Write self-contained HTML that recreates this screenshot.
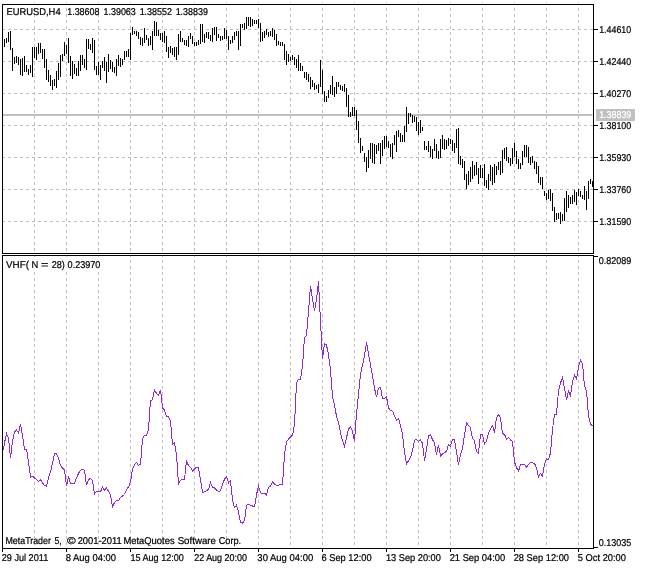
<!DOCTYPE html>
<html><head><meta charset="utf-8"><title>EURUSD,H4</title>
<style>html,body{margin:0;padding:0;background:#fff}svg{display:block;will-change:transform}text{text-rendering:geometricPrecision;stroke:#000;stroke-width:0.22px;font-family:"Liberation Sans",sans-serif;font-size:9.9px;fill:#000}</style></head><body>
<svg width="646" height="569" viewBox="0 0 646 569">
<rect width="646" height="569" fill="#fff"/>
<g shape-rendering="crispEdges" stroke="#c0c0c0" stroke-width="1" stroke-dasharray="3 3" fill="none">
<line x1="34.5" y1="8" x2="34.5" y2="253"/>
<line x1="34.5" y1="256" x2="34.5" y2="548" stroke-dashoffset="2"/>
<line x1="34.5" y1="2" x2="34.5" y2="3" stroke-dasharray="none"/>
<line x1="66.5" y1="8" x2="66.5" y2="253"/>
<line x1="66.5" y1="256" x2="66.5" y2="548" stroke-dashoffset="2"/>
<line x1="66.5" y1="2" x2="66.5" y2="3" stroke-dasharray="none"/>
<line x1="98.5" y1="8" x2="98.5" y2="253"/>
<line x1="98.5" y1="256" x2="98.5" y2="548" stroke-dashoffset="2"/>
<line x1="98.5" y1="2" x2="98.5" y2="3" stroke-dasharray="none"/>
<line x1="130.5" y1="8" x2="130.5" y2="253"/>
<line x1="130.5" y1="256" x2="130.5" y2="548" stroke-dashoffset="2"/>
<line x1="130.5" y1="2" x2="130.5" y2="3" stroke-dasharray="none"/>
<line x1="162.5" y1="8" x2="162.5" y2="253"/>
<line x1="162.5" y1="256" x2="162.5" y2="548" stroke-dashoffset="2"/>
<line x1="162.5" y1="2" x2="162.5" y2="3" stroke-dasharray="none"/>
<line x1="194.5" y1="8" x2="194.5" y2="253"/>
<line x1="194.5" y1="256" x2="194.5" y2="548" stroke-dashoffset="2"/>
<line x1="194.5" y1="2" x2="194.5" y2="3" stroke-dasharray="none"/>
<line x1="226.5" y1="8" x2="226.5" y2="253"/>
<line x1="226.5" y1="256" x2="226.5" y2="548" stroke-dashoffset="2"/>
<line x1="226.5" y1="2" x2="226.5" y2="3" stroke-dasharray="none"/>
<line x1="258.5" y1="8" x2="258.5" y2="253"/>
<line x1="258.5" y1="256" x2="258.5" y2="548" stroke-dashoffset="2"/>
<line x1="258.5" y1="2" x2="258.5" y2="3" stroke-dasharray="none"/>
<line x1="290.5" y1="8" x2="290.5" y2="253"/>
<line x1="290.5" y1="256" x2="290.5" y2="548" stroke-dashoffset="2"/>
<line x1="290.5" y1="2" x2="290.5" y2="3" stroke-dasharray="none"/>
<line x1="322.5" y1="8" x2="322.5" y2="253"/>
<line x1="322.5" y1="256" x2="322.5" y2="548" stroke-dashoffset="2"/>
<line x1="322.5" y1="2" x2="322.5" y2="3" stroke-dasharray="none"/>
<line x1="354.5" y1="8" x2="354.5" y2="253"/>
<line x1="354.5" y1="256" x2="354.5" y2="548" stroke-dashoffset="2"/>
<line x1="354.5" y1="2" x2="354.5" y2="3" stroke-dasharray="none"/>
<line x1="386.5" y1="8" x2="386.5" y2="253"/>
<line x1="386.5" y1="256" x2="386.5" y2="548" stroke-dashoffset="2"/>
<line x1="386.5" y1="2" x2="386.5" y2="3" stroke-dasharray="none"/>
<line x1="418.5" y1="8" x2="418.5" y2="253"/>
<line x1="418.5" y1="256" x2="418.5" y2="548" stroke-dashoffset="2"/>
<line x1="418.5" y1="2" x2="418.5" y2="3" stroke-dasharray="none"/>
<line x1="450.5" y1="8" x2="450.5" y2="253"/>
<line x1="450.5" y1="256" x2="450.5" y2="548" stroke-dashoffset="2"/>
<line x1="450.5" y1="2" x2="450.5" y2="3" stroke-dasharray="none"/>
<line x1="482.5" y1="8" x2="482.5" y2="253"/>
<line x1="482.5" y1="256" x2="482.5" y2="548" stroke-dashoffset="2"/>
<line x1="482.5" y1="2" x2="482.5" y2="3" stroke-dasharray="none"/>
<line x1="514.5" y1="8" x2="514.5" y2="253"/>
<line x1="514.5" y1="256" x2="514.5" y2="548" stroke-dashoffset="2"/>
<line x1="514.5" y1="2" x2="514.5" y2="3" stroke-dasharray="none"/>
<line x1="546.5" y1="8" x2="546.5" y2="253"/>
<line x1="546.5" y1="256" x2="546.5" y2="548" stroke-dashoffset="2"/>
<line x1="546.5" y1="2" x2="546.5" y2="3" stroke-dasharray="none"/>
<line x1="578.5" y1="8" x2="578.5" y2="253"/>
<line x1="578.5" y1="256" x2="578.5" y2="548" stroke-dashoffset="2"/>
<line x1="578.5" y1="2" x2="578.5" y2="3" stroke-dasharray="none"/>
<line x1="3" y1="29.5" x2="593" y2="29.5" stroke-dashoffset="1"/>
<line x1="3" y1="61.5" x2="593" y2="61.5" stroke-dashoffset="1"/>
<line x1="3" y1="93.5" x2="593" y2="93.5" stroke-dashoffset="1"/>
<line x1="3" y1="125.5" x2="593" y2="125.5" stroke-dashoffset="1"/>
<line x1="3" y1="157.5" x2="593" y2="157.5" stroke-dashoffset="1"/>
<line x1="3" y1="189.5" x2="593" y2="189.5" stroke-dashoffset="1"/>
<line x1="3" y1="221.5" x2="593" y2="221.5" stroke-dashoffset="1"/>
</g>
<g shape-rendering="crispEdges" fill="#000">
<rect x="2" y="4" width="592" height="1"/>
<rect x="2" y="4" width="1" height="250"/>
<rect x="593" y="4" width="1" height="250"/>
<rect x="2" y="253" width="592" height="1"/>
<rect x="2" y="255" width="592" height="1"/>
<rect x="2" y="255" width="1" height="294"/>
<rect x="593" y="255" width="1" height="294"/>
<rect x="2" y="548" width="592" height="1"/>
<rect x="594" y="29" width="4" height="1"/>
<rect x="594" y="61" width="4" height="1"/>
<rect x="594" y="93" width="4" height="1"/>
<rect x="594" y="125" width="4" height="1"/>
<rect x="594" y="157" width="4" height="1"/>
<rect x="594" y="189" width="4" height="1"/>
<rect x="594" y="221" width="4" height="1"/>
<rect x="594" y="256" width="4" height="1"/>
<rect x="594" y="547" width="4" height="1"/>
<rect x="2" y="549" width="1" height="3"/>
<rect x="66" y="549" width="1" height="3"/>
<rect x="130" y="549" width="1" height="3"/>
<rect x="194" y="549" width="1" height="3"/>
<rect x="258" y="549" width="1" height="3"/>
<rect x="322" y="549" width="1" height="3"/>
<rect x="386" y="549" width="1" height="3"/>
<rect x="450" y="549" width="1" height="3"/>
<rect x="514" y="549" width="1" height="3"/>
<rect x="578" y="549" width="1" height="3"/>
</g>
<g shape-rendering="crispEdges"><rect x="3" y="114" width="589" height="2" fill="#c0c0c0"/><rect x="592" y="114" width="1" height="2" fill="#e6e6e6"/><rect x="596" y="109" width="39" height="12" fill="#c0c0c0"/></g>
<path shape-rendering="crispEdges" fill="#000" d="M4 39h1v8h-1zM6 38h1v5h-1zM8 32h1v10h-1zM10 31h1v19h-1zM12 48h1v23h-1zM14 57h1v7h-1zM16 56h1v7h-1zM18 57h1v8h-1zM20 59h1v16h-1zM22 58h1v18h-1zM24 56h1v16h-1zM26 65h1v7h-1zM28 69h1v6h-1zM30 65h1v8h-1zM32 47h1v30h-1zM34 47h1v11h-1zM36 47h1v13h-1zM38 43h1v11h-1zM40 43h1v10h-1zM42 49h1v10h-1zM44 49h1v19h-1zM46 59h1v21h-1zM48 70h1v12h-1zM50 75h1v11h-1zM52 80h1v10h-1zM54 79h1v7h-1zM56 71h1v17h-1zM58 63h1v17h-1zM60 55h1v22h-1zM62 54h1v7h-1zM64 42h1v14h-1zM66 45h1v9h-1zM68 38h1v25h-1zM70 56h1v20h-1zM72 61h1v18h-1zM74 64h1v10h-1zM76 68h1v8h-1zM78 61h1v15h-1zM80 55h1v16h-1zM82 55h1v10h-1zM84 59h1v9h-1zM86 39h1v31h-1zM88 39h1v10h-1zM90 44h1v6h-1zM92 38h1v15h-1zM94 40h1v30h-1zM96 66h1v9h-1zM98 62h1v13h-1zM100 65h1v15h-1zM102 61h1v7h-1zM104 57h1v14h-1zM106 62h1v21h-1zM108 54h1v18h-1zM110 60h1v9h-1zM112 62h1v10h-1zM114 67h1v6h-1zM116 59h1v17h-1zM118 55h1v11h-1zM120 58h1v9h-1zM122 59h1v6h-1zM124 51h1v9h-1zM126 51h1v6h-1zM128 49h1v8h-1zM130 33h1v27h-1zM132 27h1v8h-1zM134 31h1v3h-1zM136 31h1v5h-1zM138 32h1v7h-1zM140 37h1v8h-1zM142 38h1v8h-1zM144 28h1v15h-1zM146 35h1v5h-1zM148 38h1v8h-1zM150 36h1v9h-1zM152 31h1v19h-1zM154 21h1v15h-1zM156 22h1v14h-1zM158 30h1v6h-1zM160 33h1v7h-1zM162 33h1v9h-1zM164 31h1v12h-1zM166 36h1v16h-1zM168 47h1v11h-1zM170 46h1v7h-1zM172 48h1v7h-1zM174 47h1v10h-1zM176 47h1v13h-1zM178 34h1v21h-1zM180 31h1v11h-1zM182 38h1v4h-1zM184 40h1v5h-1zM186 40h1v6h-1zM188 36h1v11h-1zM190 33h1v6h-1zM192 36h1v8h-1zM194 42h1v4h-1zM196 42h1v4h-1zM198 40h1v5h-1zM200 24h1v20h-1zM202 24h1v18h-1zM204 34h1v9h-1zM206 32h1v6h-1zM208 32h1v7h-1zM210 35h1v6h-1zM212 28h1v14h-1zM214 27h1v8h-1zM216 27h1v14h-1zM218 34h1v4h-1zM220 36h1v5h-1zM222 36h1v4h-1zM224 28h1v11h-1zM226 30h1v9h-1zM228 36h1v14h-1zM230 40h1v4h-1zM232 36h1v7h-1zM234 32h1v8h-1zM236 31h1v5h-1zM238 31h1v19h-1zM240 24h1v22h-1zM242 24h1v4h-1zM244 23h1v7h-1zM246 17h1v12h-1zM248 17h1v9h-1zM250 17h1v10h-1zM252 19h1v7h-1zM254 20h1v4h-1zM256 20h1v4h-1zM258 19h1v9h-1zM260 23h1v19h-1zM262 32h1v9h-1zM264 31h1v7h-1zM266 29h1v6h-1zM268 32h1v5h-1zM270 31h1v5h-1zM272 28h1v9h-1zM274 30h1v10h-1zM276 34h1v12h-1zM278 41h1v4h-1zM280 42h1v4h-1zM282 42h1v4h-1zM284 44h1v16h-1zM286 51h1v14h-1zM288 54h1v8h-1zM290 57h1v4h-1zM292 55h1v5h-1zM294 57h1v8h-1zM296 59h1v9h-1zM298 55h1v16h-1zM300 63h1v8h-1zM302 66h1v5h-1zM304 72h1v6h-1zM306 72h1v8h-1zM308 74h1v8h-1zM310 77h1v12h-1zM312 80h1v7h-1zM314 83h1v7h-1zM316 85h1v4h-1zM318 84h1v9h-1zM320 60h1v27h-1zM322 70h1v24h-1zM324 91h1v11h-1zM326 96h1v6h-1zM328 90h1v8h-1zM330 85h1v9h-1zM332 76h1v19h-1zM334 87h1v10h-1zM336 82h1v12h-1zM338 82h1v5h-1zM340 85h1v5h-1zM342 86h1v5h-1zM344 84h1v8h-1zM346 88h1v19h-1zM348 95h1v22h-1zM350 112h1v5h-1zM352 107h1v9h-1zM354 107h1v9h-1zM356 110h1v20h-1zM358 121h1v22h-1zM360 138h1v15h-1zM362 146h1v5h-1zM364 153h1v9h-1zM366 157h1v15h-1zM368 150h1v18h-1zM370 143h1v16h-1zM372 143h1v20h-1zM374 144h1v20h-1zM376 145h1v9h-1zM378 143h1v8h-1zM380 143h1v21h-1zM382 140h1v16h-1zM384 136h1v13h-1zM386 136h1v11h-1zM388 141h1v7h-1zM390 144h1v13h-1zM392 143h1v16h-1zM394 135h1v10h-1zM396 131h1v21h-1zM398 130h1v7h-1zM400 133h1v9h-1zM402 135h1v7h-1zM404 126h1v16h-1zM406 107h1v25h-1zM408 113h1v11h-1zM410 113h1v4h-1zM412 115h1v8h-1zM414 116h1v6h-1zM416 117h1v14h-1zM418 122h1v13h-1zM420 120h1v13h-1zM422 127h1v4h-1zM424 141h1v9h-1zM426 146h1v4h-1zM428 141h1v11h-1zM430 146h1v11h-1zM432 149h1v10h-1zM434 139h1v12h-1zM436 144h1v14h-1zM438 151h1v8h-1zM440 139h1v19h-1zM442 135h1v14h-1zM444 139h1v11h-1zM446 140h1v9h-1zM448 138h1v8h-1zM450 139h1v5h-1zM452 140h1v11h-1zM454 143h1v10h-1zM456 129h1v19h-1zM458 128h1v36h-1zM460 156h1v9h-1zM462 159h1v9h-1zM464 161h1v19h-1zM466 174h1v15h-1zM468 171h1v14h-1zM470 167h1v15h-1zM472 161h1v18h-1zM474 165h1v11h-1zM476 162h1v13h-1zM478 168h1v16h-1zM480 165h1v13h-1zM482 168h1v10h-1zM484 164h1v22h-1zM486 180h1v8h-1zM488 174h1v16h-1zM490 165h1v16h-1zM492 167h1v18h-1zM494 164h1v19h-1zM496 166h1v9h-1zM498 162h1v8h-1zM500 161h1v14h-1zM502 150h1v23h-1zM504 148h1v11h-1zM506 147h1v14h-1zM508 157h1v6h-1zM510 158h1v8h-1zM512 148h1v16h-1zM514 143h1v14h-1zM516 151h1v13h-1zM518 159h1v10h-1zM520 163h1v6h-1zM522 151h1v14h-1zM524 145h1v12h-1zM526 145h1v12h-1zM528 147h1v16h-1zM530 157h1v8h-1zM532 156h1v7h-1zM534 161h1v8h-1zM536 162h1v12h-1zM538 166h1v17h-1zM540 177h1v8h-1zM542 177h1v12h-1zM544 191h1v5h-1zM546 193h1v7h-1zM548 190h1v9h-1zM550 189h1v12h-1zM552 193h1v18h-1zM554 207h1v15h-1zM556 213h1v7h-1zM558 213h1v6h-1zM560 212h1v12h-1zM562 214h1v7h-1zM564 198h1v23h-1zM566 191h1v21h-1zM568 195h1v13h-1zM570 197h1v7h-1zM572 195h1v9h-1zM574 190h1v12h-1zM576 192h1v13h-1zM578 189h1v7h-1zM580 191h1v6h-1zM582 195h1v4h-1zM584 186h1v14h-1zM586 191h1v19h-1zM588 181h1v18h-1zM590 179h1v5h-1zM592 181h1v6h-1z"/>
<clipPath id="c"><rect x="3" y="256" width="590" height="292"/></clipPath>
<polyline clip-path="url(#c)" shape-rendering="crispEdges" fill="none" stroke="#8a2be2" stroke-width="1" points="3.5,449.7 4.5,443.0 6.5,433.5 8.5,438.0 10.5,458.0 12.5,441.0 14.5,432.0 16.5,430.0 18.5,433.0 20.5,424.0 22.5,436.0 24.5,449.0 26.5,449.0 28.5,462.0 30.5,477.0 32.5,476.3 34.5,478.0 36.5,479.5 38.5,481.5 40.5,479.7 42.5,483.0 44.5,485.5 46.5,486.3 48.5,477.5 50.5,472.0 52.5,463.0 54.5,454.0 56.5,453.7 58.5,458.0 60.5,465.6 62.5,468.2 64.5,469.6 66.5,486.0 68.5,476.5 70.5,483.2 72.5,483.3 74.5,483.8 76.5,478.0 78.5,473.3 80.5,470.3 82.5,469.5 84.5,470.3 86.5,485.2 88.5,479.6 90.5,478.4 92.5,480.2 94.5,493.9 96.5,491.4 98.5,491.4 100.5,491.8 102.5,486.8 104.5,490.2 106.5,487.7 108.5,491.4 110.5,494.5 112.5,506.9 114.5,502.5 116.5,500.4 118.5,500.7 120.5,497.2 122.5,496.1 124.5,494.5 126.5,489.5 128.5,487.0 130.5,482.1 132.5,469.1 134.5,464.8 136.5,462.5 138.5,465.4 140.5,464.1 142.5,438.8 144.5,435.4 146.5,435.7 148.5,429.5 150.5,400.4 152.5,399.8 154.5,389.7 156.5,393.4 158.5,395.1 160.5,389.7 162.5,407.9 164.5,410.0 166.5,416.2 168.5,416.5 170.5,420.9 172.5,444.5 174.5,442.5 176.5,454.8 178.5,483.9 180.5,480.2 182.5,479.3 184.5,479.5 186.5,460.3 188.5,465.9 190.5,467.2 192.5,470.9 194.5,469.0 196.5,467.2 198.5,467.5 200.5,479.5 202.5,492.3 204.5,491.9 206.5,490.7 208.5,489.4 210.5,482.6 212.5,487.6 214.5,488.0 216.5,490.0 218.5,491.3 220.5,490.8 222.5,484.0 224.5,479.3 226.5,476.7 228.5,482.8 230.5,480.7 232.5,500.0 234.5,507.7 236.5,505.2 238.5,512.0 240.5,522.5 242.5,523.2 244.5,520.7 246.5,505.2 248.5,504.3 250.5,505.2 252.5,506.0 254.5,506.8 256.5,494.7 258.5,486.0 260.5,492.8 262.5,493.7 264.5,493.2 266.5,494.9 268.5,487.2 270.5,486.0 272.5,482.0 274.5,484.1 276.5,485.4 278.5,485.1 280.5,484.5 282.5,484.8 284.5,454.5 286.5,442.1 288.5,439.0 290.5,436.9 292.5,435.3 294.5,424.8 296.5,382.7 298.5,379.3 300.5,379.0 302.5,366.0 304.5,337.5 306.5,335.2 308.5,311.0 310.5,286.2 312.5,298.6 314.5,311.4 316.5,299.2 318.5,281.3 320.5,321.5 322.5,359.1 324.5,343.7 326.5,344.9 328.5,354.8 330.5,369.7 332.5,397.0 334.5,405.0 336.5,416.1 338.5,422.3 340.5,433.0 342.5,440.5 344.5,446.4 346.5,437.7 348.5,429.1 350.5,426.8 352.5,431.5 354.5,440.8 356.5,413.6 358.5,394.0 360.5,374.0 362.5,365.3 364.5,356.0 366.5,342.4 368.5,354.2 370.5,364.7 372.5,375.9 374.5,388.3 376.5,396.9 378.5,388.3 380.5,387.6 382.5,398.2 384.5,398.2 386.5,396.6 388.5,408.0 390.5,410.5 392.5,411.1 394.5,416.0 396.5,420.4 398.5,418.5 400.5,426.0 402.5,434.0 404.5,452.0 406.5,464.3 408.5,460.6 410.5,457.5 412.5,450.7 414.5,440.2 416.5,439.5 418.5,441.5 420.5,440.0 422.5,443.4 424.5,460.7 426.5,449.0 428.5,436.0 430.5,434.7 432.5,439.7 434.5,442.8 436.5,454.5 438.5,445.2 440.5,456.0 442.5,453.9 444.5,452.7 446.5,451.4 448.5,444.6 450.5,445.9 452.5,439.7 454.5,439.7 456.5,452.1 458.5,465.1 460.5,454.5 462.5,449.0 464.5,434.7 466.5,423.0 468.5,425.4 470.5,427.9 472.5,438.4 474.5,440.9 476.5,451.4 478.5,453.3 480.5,434.7 482.5,434.7 484.5,444.0 486.5,440.9 488.5,432.9 490.5,428.6 492.5,425.5 494.5,433.0 496.5,417.6 498.5,414.5 500.5,418.2 502.5,433.7 504.5,434.3 506.5,439.2 508.5,437.4 510.5,439.9 512.5,441.7 514.5,462.2 516.5,467.7 518.5,471.2 520.5,464.6 522.5,464.3 524.5,464.6 526.5,467.1 528.5,464.6 530.5,462.4 532.5,462.8 534.5,463.4 536.5,467.7 538.5,477.0 540.5,473.5 542.5,476.4 544.5,464.0 546.5,458.8 548.5,459.7 550.5,452.9 552.5,429.3 554.5,414.6 556.5,414.0 558.5,390.9 560.5,382.9 562.5,377.3 564.5,388.4 566.5,400.2 568.5,390.9 570.5,395.9 572.5,381.6 574.5,375.4 576.5,379.1 578.5,366.8 580.5,360.2 582.5,363.7 584.5,386.0 586.5,390.9 588.5,415.7 590.5,423.7 592.5,426.2"/>
<text x="6.39" y="14.85" xml:space="preserve" textLength="54.25" lengthAdjust="spacingAndGlyphs">EURUSD,H4</text>
<text x="67.23" y="14.85" xml:space="preserve" textLength="32.26" lengthAdjust="spacingAndGlyphs">1.38608</text>
<text x="103.53" y="14.85" xml:space="preserve" textLength="32.26" lengthAdjust="spacingAndGlyphs">1.39063</text>
<text x="139.63" y="14.85" xml:space="preserve" textLength="32.26" lengthAdjust="spacingAndGlyphs">1.38552</text>
<text x="175.63" y="14.85" xml:space="preserve" textLength="32.26" lengthAdjust="spacingAndGlyphs">1.38839</text>
<text x="599.13" y="32.85" xml:space="preserve" textLength="32.06" lengthAdjust="spacingAndGlyphs">1.44610</text>
<text x="599.13" y="64.85" xml:space="preserve" textLength="32.06" lengthAdjust="spacingAndGlyphs">1.42440</text>
<text x="599.13" y="96.85" xml:space="preserve" textLength="32.06" lengthAdjust="spacingAndGlyphs">1.40270</text>
<text x="599.13" y="128.85" xml:space="preserve" textLength="32.06" lengthAdjust="spacingAndGlyphs">1.38100</text>
<text x="599.13" y="160.85" xml:space="preserve" textLength="32.06" lengthAdjust="spacingAndGlyphs">1.35930</text>
<text x="599.13" y="192.85" xml:space="preserve" textLength="32.06" lengthAdjust="spacingAndGlyphs">1.33760</text>
<text x="599.13" y="224.85" xml:space="preserve" textLength="32.06" lengthAdjust="spacingAndGlyphs">1.31590</text>
<text x="599.13" y="117.85" xml:space="preserve" textLength="32.16" lengthAdjust="spacingAndGlyphs" fill="#fff" style="fill:#fff;stroke:#fff">1.38839</text>
<text x="598.79" y="263.85" xml:space="preserve" textLength="32.51" lengthAdjust="spacingAndGlyphs">0.82089</text>
<text x="598.79" y="545.85" xml:space="preserve" textLength="32.41" lengthAdjust="spacingAndGlyphs">0.13035</text>
<rect x="5" y="257" width="97" height="14" fill="#fff"/>
<text x="6.05" y="267.85" xml:space="preserve" textLength="22.9" lengthAdjust="spacingAndGlyphs">VHF(</text>
<text x="31.59" y="267.85" xml:space="preserve" textLength="6.76" lengthAdjust="spacingAndGlyphs">N</text>
<text x="41.0" y="267.85" xml:space="preserve" textLength="7.47" lengthAdjust="spacingAndGlyphs">=</text>
<text x="51.69" y="267.85" xml:space="preserve" textLength="13.12" lengthAdjust="spacingAndGlyphs">28)</text>
<text x="67.58" y="267.85" xml:space="preserve" textLength="32.82" lengthAdjust="spacingAndGlyphs">0.23970</text>
<text x="5.43" y="543.85" xml:space="preserve" textLength="45.5" lengthAdjust="spacingAndGlyphs">MetaTrader</text>
<text x="54.5" y="543.85" xml:space="preserve" textLength="7.31" lengthAdjust="spacingAndGlyphs">5,</text>
<text x="66.91" y="543.85" xml:space="preserve" textLength="8.67" lengthAdjust="spacingAndGlyphs">©</text>
<text x="77.68" y="543.85" xml:space="preserve" textLength="44.05" lengthAdjust="spacingAndGlyphs">2001-2011</text>
<text x="123.39" y="543.85" xml:space="preserve" textLength="51.27" lengthAdjust="spacingAndGlyphs">MetaQuotes</text>
<text x="177.66" y="543.85" xml:space="preserve" textLength="38.25" lengthAdjust="spacingAndGlyphs">Software</text>
<text x="218.69" y="543.85" xml:space="preserve" textLength="22.4" lengthAdjust="spacingAndGlyphs">Corp.</text>
<text x="1.69" y="560.85" xml:space="preserve" textLength="46.58" lengthAdjust="spacingAndGlyphs">29 Jul 2011</text>
<text x="65.77" y="560.85" xml:space="preserve" textLength="50.21" lengthAdjust="spacingAndGlyphs">8 Aug 04:00</text>
<text x="130.42" y="560.85" xml:space="preserve" textLength="53.46" lengthAdjust="spacingAndGlyphs">15 Aug 12:00</text>
<text x="194.2" y="560.85" xml:space="preserve" textLength="52.77" lengthAdjust="spacingAndGlyphs">22 Aug 20:00</text>
<text x="257.37" y="560.85" xml:space="preserve" textLength="55.82" lengthAdjust="spacingAndGlyphs">30 Aug 04:00</text>
<text x="321.48" y="560.85" xml:space="preserve" textLength="50.14" lengthAdjust="spacingAndGlyphs">6 Sep 12:00</text>
<text x="385.9" y="560.85" xml:space="preserve" textLength="55.02" lengthAdjust="spacingAndGlyphs">13 Sep 20:00</text>
<text x="449.68" y="560.85" xml:space="preserve" textLength="55.55" lengthAdjust="spacingAndGlyphs">21 Sep 04:00</text>
<text x="513.68" y="560.85" xml:space="preserve" textLength="55.35" lengthAdjust="spacingAndGlyphs">28 Sep 12:00</text>
<text x="577.77" y="560.85" xml:space="preserve" textLength="48.24" lengthAdjust="spacingAndGlyphs">5 Oct 20:00</text>
</svg></body></html>
